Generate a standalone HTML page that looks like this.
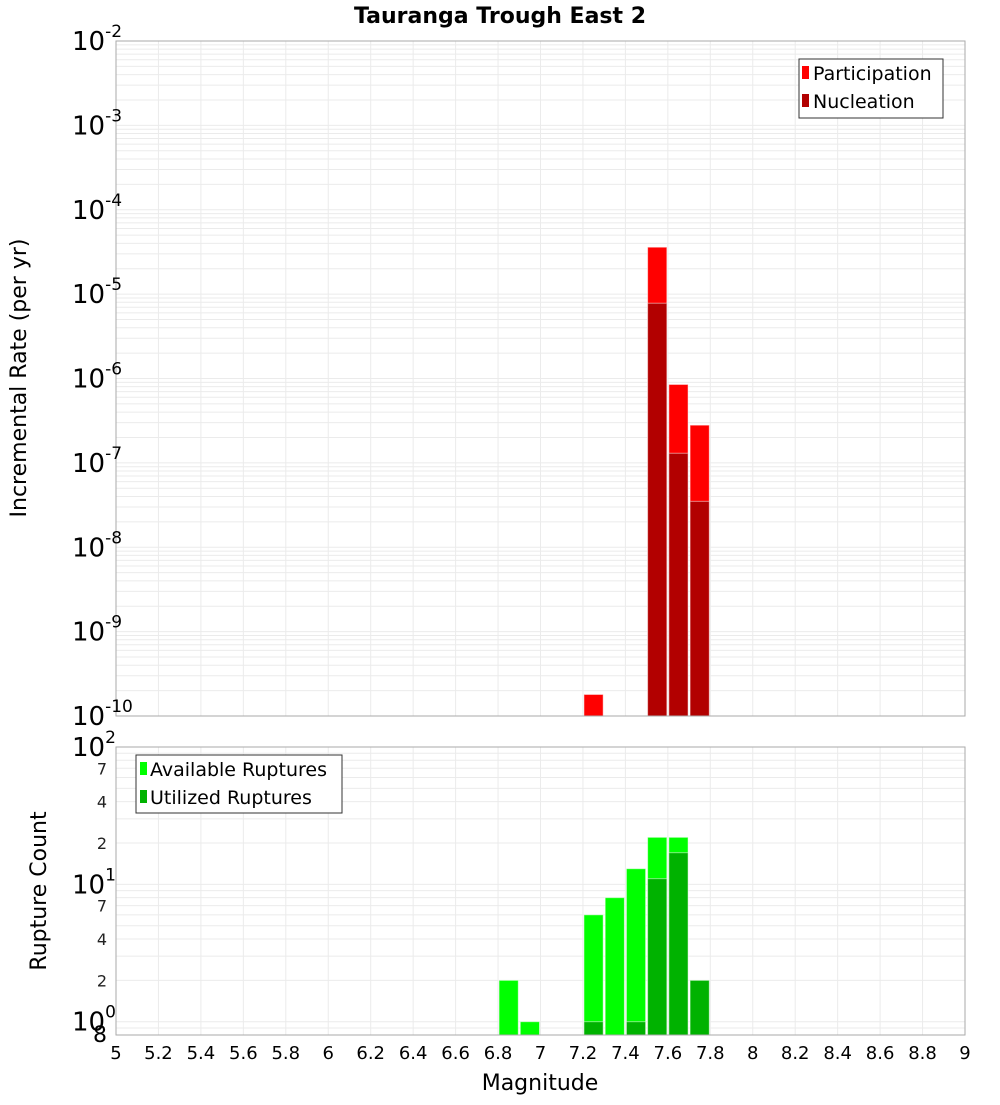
<!DOCTYPE html>
<html><head><meta charset="utf-8"><style>
body{margin:0;background:#fff;width:1000px;height:1100px;overflow:hidden}
svg{font-family:"DejaVu Sans","Liberation Sans",sans-serif}
</style></head><body>
<svg id="c" width="1000" height="1100" xmlns="http://www.w3.org/2000/svg">
<text x="500" y="23" text-anchor="middle" font-size="22" font-weight="bold">Tauranga Trough East 2</text>
<text transform="translate(26,378) rotate(-90)" text-anchor="middle" font-size="22">Incremental Rate (per yr)</text>
<text transform="translate(46,891) rotate(-90)" text-anchor="middle" font-size="22">Rupture Count</text>
<text x="540" y="1090" text-anchor="middle" font-size="22">Magnitude</text>
<g id="gtop"></g><g id="gbot"></g><g id="xt"></g>
<g>
<rect x="799" y="59" width="144" height="59" fill="#fff" stroke="#333"/>
<rect x="802" y="66" width="7" height="13" fill="#ff0000"/>
<text x="813" y="80" font-size="19">Participation</text>
<rect x="802" y="94" width="7" height="13" fill="#b20000"/>
<text x="813" y="108" font-size="19">Nucleation</text>
</g>
<g>
<rect x="136" y="755" width="206" height="58" fill="#fff" stroke="#333"/>
<rect x="140" y="762" width="7" height="13" fill="#00ff00"/>
<text x="150" y="776" font-size="19">Available Ruptures</text>
<rect x="140" y="790" width="7" height="13" fill="#00b200"/>
<text x="150" y="804" font-size="19">Utilized Ruptures</text>
</g>
</svg>
<script>
const mags=[6.85,6.95,7.25,7.35,7.45,7.55,7.65,7.75];
const participation=[0,0,1.8e-10,0,0,3.6e-5,8.5e-7,2.8e-7];
const nucleation=[0,0,0,0,0,7.8e-6,1.3e-7,3.5e-8];
const available=[2,1,6,8,13,22,22,2];
const utilized=[0,0,1,0,1,11,17,2];
const xTicks=[5,5.2,5.4,5.6,5.8,6,6.2,6.4,6.6,6.8,7,7.2,7.4,7.6,7.8,8,8.2,8.4,8.6,8.8,9];
const topExps=[-2,-3,-4,-5,-6,-7,-8,-9,-10];
const botExps=[2,1,0];
const botMinor=[7,4,2];
const NS="http://www.w3.org/2000/svg";
const X0=116,X1=965,xs=m=>X0+(m-5)/4*(X1-X0);
const TY0=41,TY1=716,ty=v=>TY1-(Math.log10(v)+10)/8*(TY1-TY0);
const BY0=747,BY1=1035,bmin=Math.log10(0.8),by=v=>BY1-(Math.log10(v)-bmin)/(2-bmin)*(BY1-BY0);
function mk(p,t,a){const e=document.createElementNS(NS,t);for(const k in a)e.setAttribute(k,a[k]);p.appendChild(e);return e;}
const gTop=document.getElementById('gtop'),gBot=document.getElementById('gbot'),xt=document.getElementById('xt');
for(let d=-10;d<-2;d++)for(let k=1;k<10;k++){const y=ty(k*Math.pow(10,d));const l=mk(gTop,'line',{x1:X0,x2:X1,y1:y,y2:y,stroke:'#ebebeb'});

}
for(let d=-1;d<2;d++)for(let k=1;k<10;k++){const v=k*Math.pow(10,d);if(v<0.8)continue;const y=by(v);const l=mk(gBot,'line',{x1:X0,x2:X1,y1:y,y2:y,stroke:'#ebebeb'});

}
xTicks.forEach(m=>{const x=xs(m);
[[TY0,TY1,gTop],[BY0,BY1,gBot]].forEach(([a,b,g])=>{const l=mk(g,'line',{x1:x,x2:x,y1:a,y2:b,stroke:'#ebebeb'});

});
const t=mk(xt,'text',{x:x,y:1059,'text-anchor':'middle','font-size':18});t.textContent=String(m);

});
const bw=(X1-X0)/40;
function bar(g,m,y,yb,c,name){const r=mk(g,'rect',{x:xs(m)-bw/2+1,y:y,width:bw-2,height:yb-y,fill:c,stroke:'#fff','stroke-opacity':0.5});

}
mags.forEach((m,i)=>{
if(participation[i]>0)bar(gTop,m,ty(participation[i]),TY1,'#ff0000','participation-bar');
if(nucleation[i]>0)bar(gTop,m,ty(nucleation[i]),TY1,'#b20000','nucleation-bar');
if(available[i]>0)bar(gBot,m,by(available[i]),BY1,'#00ff00','available-bar');
if(utilized[i]>0)bar(gBot,m,by(utilized[i]),BY1,'#00b200','utilized-bar');});
mk(gTop,'rect',{x:X0,y:TY0,width:X1-X0,height:TY1-TY0,fill:'none',stroke:'#aaa'});
mk(gBot,'rect',{x:X0,y:BY0,width:X1-X0,height:BY1-BY0,fill:'none',stroke:'#aaa'});
topExps.forEach(e=>{const y=ty(Math.pow(10,e));const t=mk(gTop,'text',{x:72,y:y+9,'font-size':26});
t.innerHTML='10<tspan dy="-13" font-size="17">'+e+'</tspan>';

});
botExps.forEach(e=>{const y=by(Math.pow(10,e));const t=mk(gBot,'text',{x:72,y:y+9,'font-size':26});
t.innerHTML='10<tspan dy="-13" font-size="17">'+e+'</tspan>';

});
[0,1].forEach(d=>botMinor.forEach(k=>{const y=by(k*Math.pow(10,d));const t=mk(gBot,'text',{x:107,y:y+6,'font-size':16,'text-anchor':'end',fill:'#222'});t.textContent=k;

}));
const t8=mk(gBot,'text',{x:107,y:1042,'font-size':22,'text-anchor':'end'});t8.textContent='8';


</script>
</body></html>
